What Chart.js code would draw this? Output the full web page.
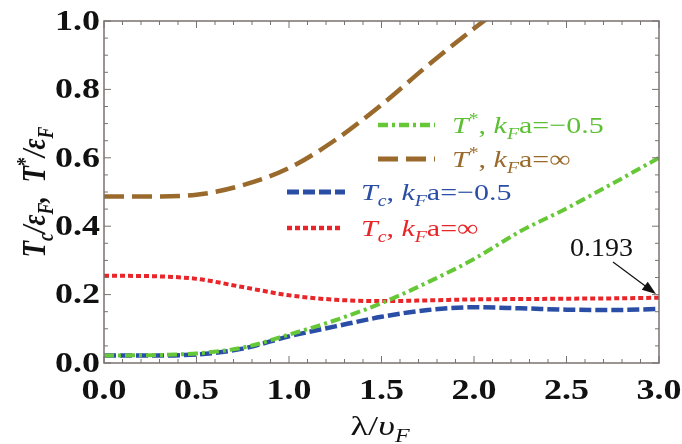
<!DOCTYPE html>
<html><head><meta charset="utf-8">
<script src="https://cdn.jsdelivr.net/npm/chart.js@4/dist/chart.umd.min.js"></script>
<style>html,body{margin:0;padding:0;background:#fff}canvas{display:block}</style>
</head><body>
<canvas id="c" width="682" height="444"></canvas>
<script>
// ---- data ----
const lambdaValues = [0, 0.25, 0.5, 0.75, 1.0, 1.25, 1.5, 1.75, 2.0, 2.25, 2.5, 2.75, 3.0];
const tStarMinus05 = [0.022, 0.023, 0.028, 0.045, 0.083, 0.125, 0.175, 0.236, 0.304, 0.385, 0.452, 0.525, 0.600];
const tStarInf     = [0.487, 0.487, 0.492, 0.520, 0.570, 0.652, 0.755, 0.87, 0.978, 1.08, null, null, null];
const tcMinus05    = [0.022, 0.022, 0.025, 0.042, 0.078, 0.107, 0.135, 0.155, 0.163, 0.160, 0.156, 0.155, 0.158];
const tcInf        = [0.255, 0.254, 0.246, 0.222, 0.198, 0.185, 0.181, 0.183, 0.186, 0.187, 0.188, 0.189, 0.191];
const seriesLabels = ["T^{*}, k_{F}a=\u22120.5", "T^{*}, k_{F}a=\u221e", "T_{c}, k_{F}a=\u22120.5", "T_{c}, k_{F}a=\u221e"];
const xTickValues = [0, 0.5, 1.0, 1.5, 2.0, 2.5, 3.0];
const xTickLabels = ["0.0", "0.5", "1.0", "1.5", "2.0", "2.5", "3.0"];
const yTickValues = [0, 0.2, 0.4, 0.6, 0.8, 1.0];
const yTickLabels = ["0.0", "0.2", "0.4", "0.6", "0.8", "1.0"];
const xTitle = "\u03bb/\u03c5_{F}";
const yTitle = "T_{c}/\u03b5_{F},  T^{*}/\u03b5_{F}";
const annotationText = "0.193";
const annotationValue = [3.0, 0.193];

const colors = ['#66c837', '#9a6a2c', '#2a4ea6', '#e8262a'];
const textColors = ['#5cbf34', '#9a6a2c', '#2a4ea6', '#e8262a'];
const dashes = [[10, 4, 3, 4], [20, 8], [12, 4], [5, 3]];
const widths = [4, 4.5, 4.5, 4];

function pts(arr) { return lambdaValues.map((x, i) => ({x, y: arr[i]})); }
const allSeries = [tStarMinus05, tStarInf, tcMinus05, tcInf];
const SERIF = '"Liberation Serif", "Times New Roman", serif';

// ---- rich text ----
function parseRich(s) {
  const out = [];
  let i = 0;
  while (i < s.length) {
    const ch = s[i];
    if ((ch === '_' || ch === '^') && s[i + 1] === '{') {
      const j = s.indexOf('}', i);
      out.push({t: s.slice(i + 2, j), mode: ch === '_' ? 'sub' : 'sup'});
      i = j + 1;
    } else {
      out.push({t: ch, mode: 'n'});
      i++;
    }
  }
  return out;
}
const italicChars = 'Tk\u03b5\u03c5';
function segFont(seg, o) {
  const size = seg.mode === 'n' ? o.size : o.size * 0.66;
  const ital = o.allItalic || seg.mode === 'sub' || italicChars.indexOf(seg.t) >= 0;
  return (ital && seg.t !== '*' ? 'italic ' : '') + (o.bold ? 'bold ' : '') + size + 'px ' + SERIF;
}
function drawRich(ctx, s, x, y, o) {
  const segs = parseRich(s);
  let w = 0;
  segs.forEach(sg => { ctx.font = segFont(sg, o); sg.w = ctx.measureText(sg.t).width; w += sg.w; });
  ctx.save();
  ctx.translate(x, y);
  ctx.scale(o.sx || 1, o.sy || 1);
  let cx = o.align === 'center' ? -w / 2 : 0;
  ctx.fillStyle = o.color;
  ctx.textBaseline = 'alphabetic';
  ctx.textAlign = 'left';
  segs.forEach(sg => {
    ctx.font = segFont(sg, o);
    let dy = 0;
    if (sg.mode === 'sub') dy = o.size * 0.25;
    if (sg.mode === 'sup') dy = -o.size * 0.38;
    ctx.fillText(sg.t, cx, dy);
    cx += sg.w;
  });
  ctx.restore();
  return w;
}
function drawStretched(ctx, t, x, y, font, sx, align, baseline) {
  ctx.save();
  ctx.translate(x, y);
  ctx.scale(sx, 1);
  ctx.font = font;
  ctx.textAlign = align;
  ctx.textBaseline = baseline;
  ctx.fillText(t, 0, 0);
  ctx.restore();
}

const decor = {
  id: 'decor',
  afterDraw(chart) {
    const ctx = chart.ctx;
    const xs = chart.scales.x, ys = chart.scales.y;
    const a = chart.chartArea;
    ctx.save();
    // frame
    ctx.strokeStyle = '#7a7270';
    ctx.lineWidth = 1.5;
    ctx.strokeRect(a.left, a.top, a.right - a.left, a.bottom - a.top);
    // inward ticks
    ctx.lineWidth = 1;
    for (let k = 0; k <= 30; k++) {
      const px = xs.getPixelForValue(k / 10);
      const len = k % 5 === 0 ? 7 : 4;
      ctx.beginPath();
      ctx.moveTo(px, a.bottom); ctx.lineTo(px, a.bottom - len);
      ctx.moveTo(px, a.top); ctx.lineTo(px, a.top + len);
      ctx.stroke();
    }
    for (let k = 0; k <= 20; k++) {
      const py = ys.getPixelForValue(k / 20);
      const len = k % 4 === 0 ? 7 : 4;
      ctx.beginPath();
      ctx.moveTo(a.left, py); ctx.lineTo(a.left + len, py);
      ctx.moveTo(a.right, py); ctx.lineTo(a.right - len, py);
      ctx.stroke();
    }
    // tick labels
    ctx.fillStyle = '#111';
    const tf = 'bold 30px ' + SERIF;
    xTickValues.forEach((v, i) => drawStretched(ctx, xTickLabels[i], xs.getPixelForValue(v), 391, tf, 1.2, 'center', 'middle'));
    yTickValues.forEach((v, i) => drawStretched(ctx, yTickLabels[i], a.left - 4, ys.getPixelForValue(v) + 1, tf, 1.2, 'right', 'middle'));
    // legend
    const legendPos = [[378, 125, 452], [378, 159, 452], [287, 192, 361], [287, 228, 361]];
    const lineLen = [57, 57, 58, 53];
    legendPos.forEach((p, i) => {
      ctx.save();
      ctx.strokeStyle = colors[i];
      ctx.lineWidth = widths[i] + 0.5;
      ctx.setLineDash(dashes[i]);
      ctx.beginPath();
      ctx.moveTo(p[0], p[1]); ctx.lineTo(p[0] + lineLen[i], p[1]);
      ctx.stroke();
      ctx.restore();
      drawRich(ctx, seriesLabels[i], p[2], p[1] + 8, {size: 24, color: textColors[i], sx: 1.25});
    });
    // annotation
    const tx = xs.getPixelForValue(annotationValue[0]);
    const ty = ys.getPixelForValue(annotationValue[1]);
    ctx.fillStyle = '#111';
    drawStretched(ctx, annotationText, 570, 256, '25px ' + SERIF, 1.12, 'left', 'alphabetic');
    const sx = 613, sy = 262;
    const ex = tx - 3, ey = ty - 3;
    const ang = Math.atan2(ey - sy, ex - sx);
    ctx.strokeStyle = '#111';
    ctx.lineWidth = 1.2;
    ctx.beginPath(); ctx.moveTo(sx, sy); ctx.lineTo(ex - 10 * Math.cos(ang), ey - 10 * Math.sin(ang)); ctx.stroke();
    ctx.beginPath();
    ctx.moveTo(ex, ey);
    ctx.lineTo(ex - 14 * Math.cos(ang) + 5 * Math.sin(ang), ey - 14 * Math.sin(ang) - 5 * Math.cos(ang));
    ctx.lineTo(ex - 14 * Math.cos(ang) - 5 * Math.sin(ang), ey - 14 * Math.sin(ang) + 5 * Math.cos(ang));
    ctx.closePath(); ctx.fill();
    // axis titles
    drawRich(ctx, xTitle, 380, 435, {size: 28, color: '#111', align: 'center', sx: 1.3});
    ctx.save();
    ctx.translate(45, 192);
    ctx.rotate(-Math.PI / 2);
    drawRich(ctx, yTitle, 0, 0, {size: 27, color: '#111', align: 'center', bold: true, allItalic: true, sy: 1.25});
    ctx.restore();
    ctx.restore();
  }
};

new Chart(document.getElementById('c'), {
  type: 'line',
  data: {
    datasets: allSeries.map((arr, i) => ({
      label: seriesLabels[i],
      data: pts(arr),
      borderColor: colors[i],
      borderWidth: widths[i],
      borderDash: dashes[i],
      pointRadius: 0,
      fill: false,
      cubicInterpolationMode: 'monotone',
      spanGaps: false
    }))
  },
  options: {
    responsive: false,
    animation: false,
    devicePixelRatio: 1,
    layout: {padding: {left: 0, right: 23, top: 21, bottom: 0}},
    plugins: {legend: {display: false}, tooltip: {enabled: false}},
    scales: {
      x: {
        type: 'linear', min: 0, max: 3,
        grid: {display: false, drawTicks: false},
        border: {display: false},
        ticks: {display: false, stepSize: 0.5},
        afterFit: (s) => { s.height = 81; }
      },
      y: {
        type: 'linear', min: 0, max: 1,
        grid: {display: false, drawTicks: false},
        border: {display: false},
        ticks: {display: false, stepSize: 0.2},
        afterFit: (s) => { s.width = 104; }
      }
    }
  },
  plugins: [decor]
});
</script>
</body></html>
